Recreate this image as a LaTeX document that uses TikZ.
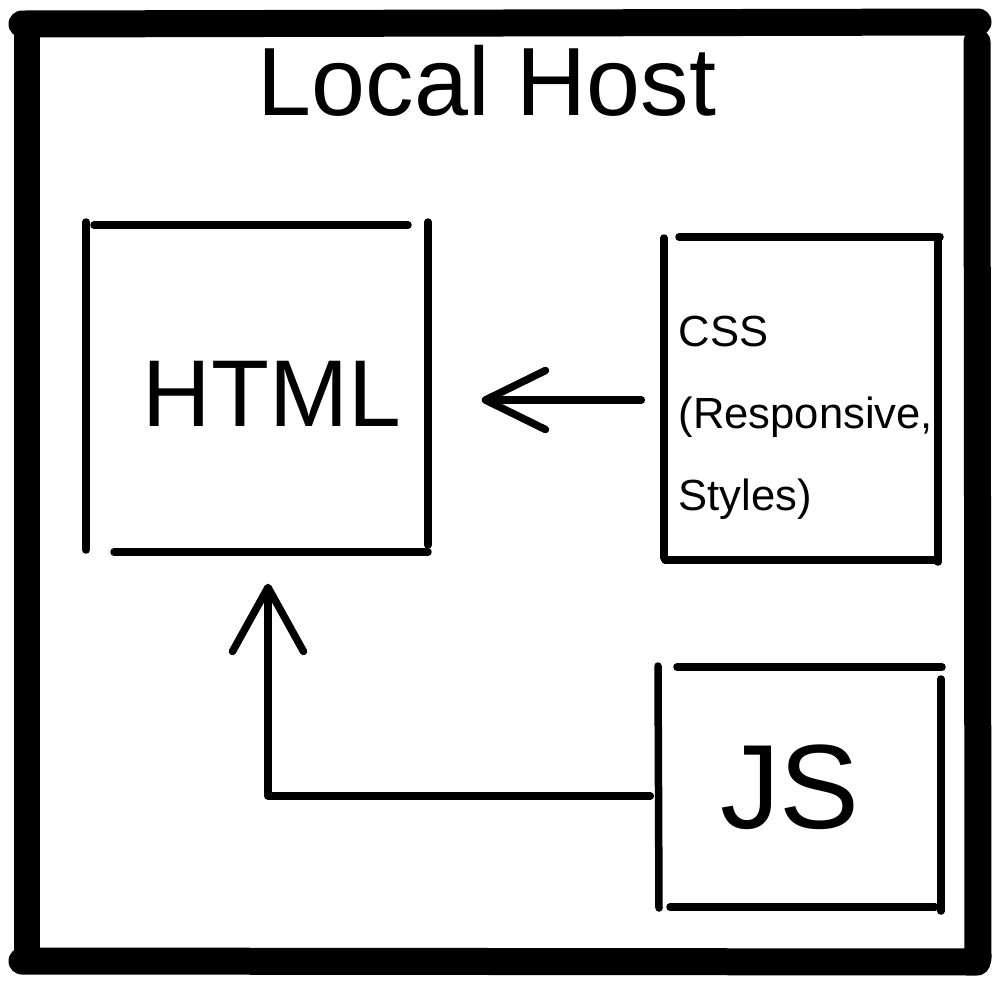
\documentclass[tikz,border=0pt]{standalone}
\usepackage{fontspec}
\setmainfont{Liberation Sans}
\usetikzlibrary{arrows.meta,calc}
\begin{document}
\begin{tikzpicture}[x=0.1mm,y=-0.1mm,
  frame/.style={line width=2.7mm,line cap=round,line join=round},
  pen/.style={line width=0.75mm,line cap=round,line join=round},
  conn/.style={pen},
  box/.style={draw=none,inner sep=0pt,rectangle},
  lbl/.style={inner sep=0pt,anchor=base}]
\useasboundingbox[fill=white] (0,0) rectangle (1000,1000);
% outer frame (hand drawn strokes)
\draw[frame] (22,24) -- (978,22);
\draw[frame] (977,42) -- (978,958);
\draw[frame] (22,961) -- (977,962);
\draw[frame] (27,32) -- (27,960);
\node[lbl,font=\fontsize{27.6pt}{30pt}\selectfont] (title) at (487,115) {Local Host};
% boxes (invisible extents)
\node[box,minimum width=34.2mm,minimum height=32.8mm] (html) at (257,388) {};
\node[box,minimum width=27.5mm,minimum height=32.4mm] (css) at (800.5,399) {};
\node[box,minimum width=28.2mm,minimum height=24.2mm] (js) at (799,787) {};
% HTML box sides
\draw[pen] (86,222) -- (86,550);
\draw[pen] (94,225) -- (408,225);
\draw[pen] (428,222) -- (428,545);
\draw[pen] (114,552) -- (428,552);
% CSS box sides
\draw[pen] (664,238) -- (664,558);
\draw[pen] (679,237) -- (940,237);
\draw[pen] (938,237) -- (938,562);
\draw[pen] (665,560) -- (938,560);
% JS box sides
\draw[pen] (658,666) -- (659,908);
\draw[pen] (677,667) -- (942,667);
\draw[pen] (941,679) -- (941,911);
\draw[pen] (670,907) -- (935,907);
% texts
\node[lbl,font=\fontsize{27pt}{30pt}\selectfont] (htmltxt) at (272,426) {HTML};
\node[lbl,font=\fontsize{34.1pt}{36pt}\selectfont] (jstxt) at (790,828) {JS};
\node[inner sep=0pt,anchor=base west,align=left,font=\fontsize{12.4pt}{23.3pt}\selectfont] (csstxt) at (678,510) {CSS\\(Responsive,\\Styles)};
% connectors
\draw[conn,-{Straight Barb[length=6mm,width=5.9mm,round]}] ($(css.west)+(-21,1)$) -- ($(css.west -| html.east)+(53,1)$);
\draw[conn,-{Straight Barb[length=6.4mm,width=7.1mm,round]}] ($(js.west)+(-7,9)$) -| ($(html.south)+(11,31)$);
\end{tikzpicture}
\end{document}
